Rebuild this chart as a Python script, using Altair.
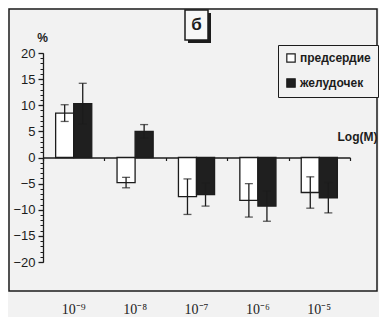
import altair as alt
import pandas as pd

conc = ["10⁻⁹", "10⁻⁸", "10⁻⁷", "10⁻⁶", "10⁻⁵"]
series = ["предсердие", "желудочек"]
atrium = [8.5, -4.8, -7.5, -8.2, -6.7]
atrium_err = [1.6, 1.0, 3.4, 3.2, 3.0]
ventricle = [10.3, 5.0, -7.1, -9.3, -7.7]
ventricle_err = [3.9, 1.3, 2.2, 2.9, 2.9]
y_major = [-20, -15, -10, -5, 0, 5, 10, 15, 20]
y_minor = list(range(-20, 21))

rows = []
for i, c in enumerate(conc):
    rows.append({"conc": c, "series": series[0], "value": atrium[i], "err": atrium_err[i]})
    rows.append({"conc": c, "series": series[1], "value": ventricle[i], "err": ventricle_err[i]})
df = pd.DataFrame(rows)
df["lo"] = df["value"] - df["err"]
df["hi"] = df["value"] + df["err"]

INK = "#1c1c1c"
xsc = alt.Scale(paddingInner=0, paddingOuter=0)
osc = alt.Scale(paddingInner=0, paddingOuter=0.7)
ysc = alt.Scale(domain=[-20, 20], nice=False)

x_lab = alt.X("conc:N", sort=conc, scale=xsc, title=None,
              axis=alt.Axis(orient="bottom", domain=False, ticks=False, labelAngle=0,
                            labelPadding=40, labelFont="Liberation Serif", labelFontSize=14,
                            labelColor=INK))
x_none = alt.X("conc:N", sort=conc, scale=xsc, axis=None)
xoff = alt.XOffset("series:N", sort=series, scale=osc)

y_axis = alt.Axis(orient="left", values=y_major, tickSize=5, domainColor=INK, tickColor=INK,
                  domainWidth=1.3, tickWidth=1.3, grid=False, labelFont="Liberation Sans",
                  labelFontSize=13, labelColor=INK, labelPadding=3, title="%", titleAngle=0,
                  titleX=-1, titleY=-9, titleAlign="center", titleFont="Liberation Sans",
                  titleFontSize=12, titleFontWeight="bold", titleColor=INK)

base = alt.Chart(df)

bars = base.mark_bar(stroke=INK, strokeWidth=1.3).encode(
    x=x_lab, xOffset=xoff,
    y=alt.Y("value:Q", scale=ysc, axis=y_axis),
    color=alt.Color("series:N", sort=series,
                    scale=alt.Scale(domain=series, range=["#ffffff", "#1f1f1f"]),
                    legend=alt.Legend(orient="none", legendX=235, legendY=-8, title=None,
                                      strokeColor=INK, padding=7, rowPadding=11,
                                      symbolType="square", symbolSize=70,
                                      symbolStrokeColor=INK, symbolStrokeWidth=1.2,
                                      labelFont="Liberation Sans", labelFontSize=12,
                                      labelFontWeight="bold", labelColor=INK, labelOffset=3,
                                      fillColor="#f2f2f2")),
)

rules = base.mark_rule(color=INK, strokeWidth=1.3).encode(
    x=x_none, xOffset=xoff,
    y=alt.Y("lo:Q", scale=ysc, axis=None), y2="hi:Q")
cap_lo = base.mark_tick(color=INK, thickness=1.3, size=8).encode(
    x=x_none, xOffset=xoff, y=alt.Y("lo:Q", scale=ysc, axis=None))
cap_hi = base.mark_tick(color=INK, thickness=1.3, size=8).encode(
    x=x_none, xOffset=xoff, y=alt.Y("hi:Q", scale=ysc, axis=None))

zero_axis = base.mark_point(opacity=0).encode(
    x=alt.X("conc:N", sort=conc, scale=xsc,
            axis=alt.Axis(orient="bottom", offset=-104.5, labels=False, tickBand="extent",
                          tickSize=3, domainColor=INK, tickColor=INK, domainWidth=1.3,
                          tickWidth=1.2, title="Log(M)", titleAngle=0, titleAlign="right",
                          titleAnchor="end", titleX=334, titleY=-14, titleBaseline="bottom",
                          titleFont="Liberation Sans", titleFontSize=12,
                          titleFontWeight="bold", titleColor=INK)),
    y=alt.Y("value:Q", scale=ysc, axis=None),
)

minor = alt.Chart(pd.DataFrame({"v": y_minor})).mark_point(opacity=0).encode(
    y=alt.Y("v:Q", scale=ysc,
            axis=alt.Axis(orient="left", values=y_minor, labels=False, domain=False,
                          tickSize=3, tickColor=INK, tickWidth=1, grid=False, title=None)))

one = pd.DataFrame({"a": [0]})
frame = alt.Chart(one).mark_rect(fill=None, stroke=INK, strokeWidth=1.5).encode(
    x=alt.value(-34), x2=alt.value(334), y=alt.value(-44), y2=alt.value(238))
shadow = alt.Chart(one).mark_rect(fill=INK).encode(
    x=alt.value(145), x2=alt.value(168), y=alt.value(-40), y2=alt.value(-10))
box = alt.Chart(one).mark_rect(fill="#f7f7f7", stroke=INK, strokeWidth=1.5).encode(
    x=alt.value(142), x2=alt.value(165), y=alt.value(-43), y2=alt.value(-13))
label_b = alt.Chart(one).mark_text(text="б", font="Liberation Sans", fontSize=17,
                                   fontWeight="bold", color=INK).encode(
    x=alt.value(153.5), y=alt.value(-28))

chart = alt.layer(frame, minor, zero_axis, bars, rules, cap_lo, cap_hi, shadow, box, label_b).resolve_axis(
    x="independent", y="independent"
).properties(
    width=307, height=209,
    padding={"left": 35, "top": 45, "right": 29, "bottom": 55},
    autosize=alt.AutoSizeParams(type="none"),
    background="#f2f2f2",
).configure_view(stroke=None)

chart.save("out.html", embed_options={"renderer": "svg", "actions": False})
